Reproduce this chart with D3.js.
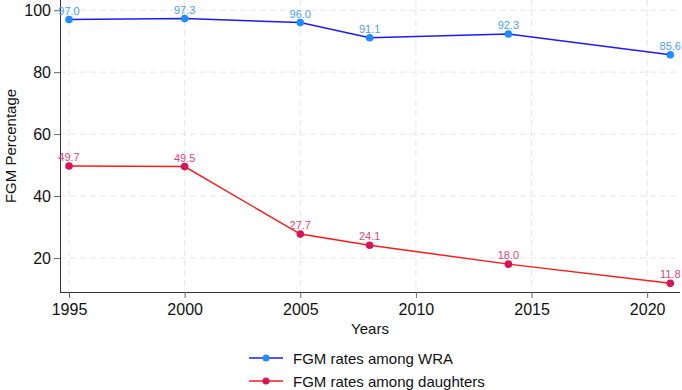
<!DOCTYPE html>
<html>
<head>
<meta charset="utf-8">
<script src="https://cdn.jsdelivr.net/npm/d3@7"></script>
<style>
  body { margin: 0; background: #fff; }
  svg { font-family: "Liberation Sans", Arial, sans-serif; }
</style>
</head>
<body>
<svg width="682" height="390"></svg>
<script>
const years = [1995, 2000, 2005, 2008, 2014, 2021];
const wra = [97.0, 97.3, 96.0, 91.1, 92.3, 85.6];
const daughters = [49.7, 49.5, 27.7, 24.1, 18.0, 11.8];
const xTicks = [1995, 2000, 2005, 2010, 2015, 2020];
const yTicks = [20, 40, 60, 80, 100];
const seriesNames = ['FGM rates among WRA', 'FGM rates among daughters'];

const svg = d3.select('svg');
const margin = { top: 0, right: 2, bottom: 98, left: 60 };
const width = +svg.attr('width');
const height = +svg.attr('height');
const innerWidth = width - margin.left - margin.right;
const innerHeight = height - margin.top - margin.bottom;

const xScale = d3.scaleLinear()
    .domain([1994.61, 2021.42])
    .range([0, innerWidth]);

const yScale = d3.scaleLinear()
    .domain([9.0, 103.3])
    .range([innerHeight, 0]);

const g = svg.append('g')
    .attr('transform', `translate(${margin.left},${margin.top})`);

// dashed grid
g.append('g')
    .selectAll('line')
    .data(yTicks)
    .enter().append('line')
    .attr('x1', 0).attr('x2', innerWidth)
    .attr('y1', d => yScale(d)).attr('y2', d => yScale(d))
    .attr('stroke', '#e6e6e6')
    .attr('stroke-dasharray', '6,4');

g.append('g')
    .selectAll('line')
    .data(xTicks)
    .enter().append('line')
    .attr('x1', d => xScale(d)).attr('x2', d => xScale(d))
    .attr('y1', 0).attr('y2', innerHeight)
    .attr('stroke', '#e6e6e6')
    .attr('stroke-dasharray', '6,4');

// axes
const xAxisG = g.append('g')
    .attr('transform', `translate(0,${innerHeight})`)
    .call(d3.axisBottom(xScale).tickValues(xTicks).tickFormat(d3.format('d')).tickSize(6).tickPadding(6));

const yAxisG = g.append('g')
    .call(d3.axisLeft(yScale).tickValues(yTicks).tickSize(6).tickPadding(3));

[xAxisG, yAxisG].forEach(a => {
    a.selectAll('.domain').attr('stroke', '#333');
    a.selectAll('.tick line').attr('stroke', '#666');
    a.selectAll('.tick text').attr('font-size', 16).attr('fill', '#111');
});
xAxisG.select('.domain').attr('d', `M0,0.5H${innerWidth}`);
yAxisG.select('.domain').attr('d', `M0.5,0V${innerHeight}`);

// axis titles
svg.append('text')
    .attr('x', margin.left + innerWidth / 2)
    .attr('y', 334)
    .attr('text-anchor', 'middle')
    .attr('font-size', 15)
    .attr('fill', '#111')
    .text('Years');

svg.append('text')
    .attr('transform', `translate(16,${innerHeight / 2}) rotate(-90)`)
    .attr('text-anchor', 'middle')
    .attr('font-size', 15)
    .attr('fill', '#111')
    .text('FGM Percentage');

const series = [
    { name: seriesNames[0], values: wra, line: '#1a1aff', dot: '#1e8cff', label: '#4d9dff' },
    { name: seriesNames[1], values: daughters, line: '#ff1a1a', dot: '#d81458', label: '#e2457c' }
];

const lineGen = d3.line()
    .x(d => xScale(d.year))
    .y(d => yScale(d.value));

series.forEach(s => {
    const pts = years.map((y, i) => ({ year: y, value: s.values[i] }));
    g.append('path')
        .datum(pts)
        .attr('fill', 'none')
        .attr('stroke', s.line)
        .attr('stroke-width', 1.5)
        .attr('d', lineGen);
    g.selectAll(null)
        .data(pts)
        .enter().append('circle')
        .attr('cx', d => xScale(d.year))
        .attr('cy', d => yScale(d.value))
        .attr('r', 3.8)
        .attr('fill', s.dot);
    g.selectAll(null)
        .data(pts)
        .enter().append('text')
        .attr('x', d => xScale(d.year))
        .attr('y', d => yScale(d.value) - 5)
        .attr('text-anchor', 'middle')
        .attr('font-size', 11)
        .attr('fill', s.label)
        .text(d => d.value.toFixed(1));
});

// legend
const legend = svg.append('g').attr('transform', 'translate(249,358)');
series.forEach((s, i) => {
    const row = legend.append('g').attr('transform', `translate(0,${i * 23})`);
    row.append('line')
        .attr('x1', 0).attr('x2', 34)
        .attr('stroke', s.line).attr('stroke-width', 1.5);
    row.append('circle')
        .attr('cx', 17).attr('r', 3.5).attr('fill', s.dot);
    row.append('text')
        .attr('x', 44).attr('y', 5.5)
        .attr('font-size', 15)
        .attr('fill', '#111')
        .text(s.name);
});
</script>
</body>
</html>
